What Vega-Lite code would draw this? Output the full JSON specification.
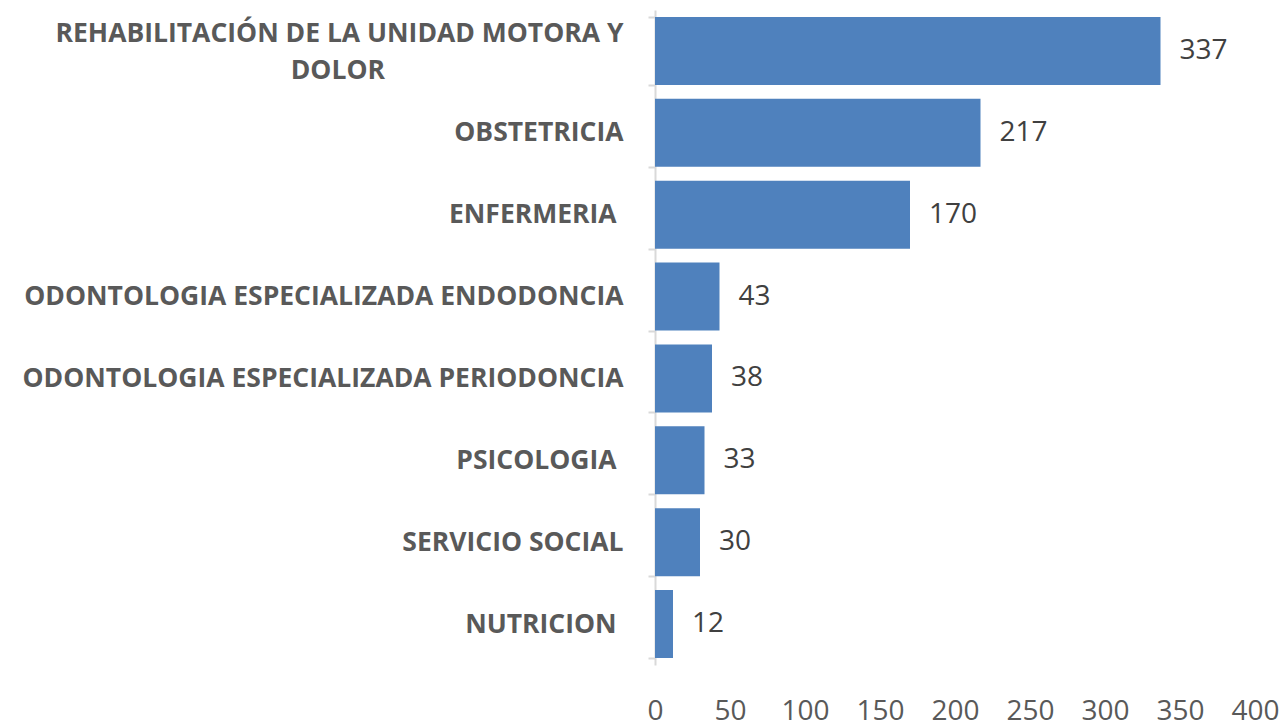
{
  "$schema": "https://vega.github.io/schema/vega-lite/v6.json",
  "width": 600,
  "height": 655,
  "autosize": {"type": "none"},
  "padding": {"left": 655, "top": 10, "right": 33, "bottom": 61},
  "background": "white",
  "config": {"view": {"stroke": null}},
  "data": {
    "values": [
      {"area": "REHABILITACIÓN DE LA UNIDAD MOTORA Y DOLOR", "value": 337},
      {"area": "OBSTETRICIA", "value": 217},
      {"area": "ENFERMERIA \u200b", "value": 170},
      {"area": "ODONTOLOGIA ESPECIALIZADA ENDODONCIA", "value": 43},
      {"area": "ODONTOLOGIA ESPECIALIZADA PERIODONCIA", "value": 38},
      {"area": "PSICOLOGIA \u200b", "value": 33},
      {"area": "SERVICIO SOCIAL", "value": 30},
      {"area": "NUTRICION \u200b", "value": 12}
    ]
  },
  "encoding": {
    "y": {
      "field": "area",
      "type": "nominal",
      "sort": null,
      "scale": {"paddingInner": 0.17, "paddingOuter": 0.085},
      "axis": {
        "title": null,
        "labelFont": "Open Sans",
        "labelFontWeight": "bold",
        "labelFontSize": 26.5,
        "labelColor": "#595959",
        "labelPadding": 25,
        "labelLimit": 700,
        "labelLineHeight": 37,
        "labelOffset": {"condition": {"test": "datum.value == 'REHABILITACIÓN DE LA UNIDAD MOTORA Y DOLOR'", "value": -17}, "value": 0},
        "labelExpr": "datum.label == 'REHABILITACIÓN DE LA UNIDAD MOTORA Y DOLOR' ? ['REHABILITACIÓN DE LA UNIDAD MOTORA Y', 'DOLOR\u2003\u2003\u2003\u2003\u2003\u2003\u2003\u2003\u2003\u200b'] : datum.label",
        "domainColor": "#d9d9d9",
        "domainWidth": 2,
        "tickColor": "#d9d9d9",
        "tickWidth": 2,
        "tickSize": 7,
        "tickBand": "extent",
        "grid": false
      }
    },
    "x": {
      "field": "value",
      "type": "quantitative",
      "scale": {"domain": [0, 400], "nice": false},
      "axis": {
        "title": null,
        "values": [0, 50, 100, 150, 200, 250, 300, 350, 400],
        "labelFont": "Open Sans",
        "labelFontSize": 28,
        "labelColor": "#595959",
        "labelPadding": 32,
        "domain": false,
        "ticks": false,
        "grid": false,
        "labelFlush": false,
        "labelOverlap": false
      }
    }
  },
  "layer": [
    {"mark": {"type": "bar", "color": "#4f81bd"}},
    {
      "mark": {"type": "text", "align": "left", "baseline": "middle", "dx": 19, "font": "Open Sans", "fontSize": 28, "color": "#404040"},
      "encoding": {"text": {"field": "value", "type": "quantitative"}}
    }
  ]
}
